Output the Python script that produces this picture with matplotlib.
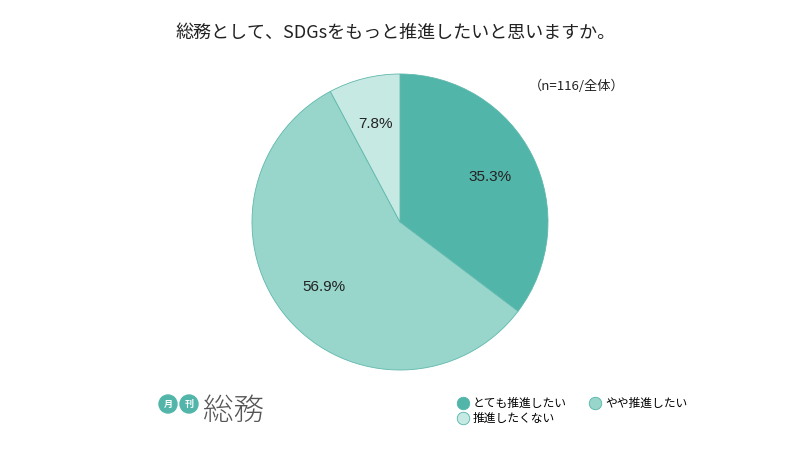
import matplotlib
matplotlib.use("Agg")
import matplotlib.pyplot as plt
from matplotlib.patches import Circle
from matplotlib.lines import Line2D

plt.rcParams['font.family'] = ['Noto Sans CJK JP', 'DejaVu Sans']

title = "総務として、SDGsをもっと推進したいと思いますか。"
note = "（n=116/全体）"
categories = ["とても推進したい", "やや推進したい", "推進したくない"]
values = [35.3, 56.9, 7.8]
colors = ["#52b5a9", "#98d6cc", "#c6e9e3"]

fig = plt.figure(figsize=(8, 4.5), dpi=100)
fig.patch.set_facecolor("white")

ax = fig.add_axes([252/800, 80/450, 296/800, 296/450])
wedges, texts, autotexts = ax.pie(
    values, colors=colors, startangle=90, counterclock=False,
    autopct=lambda p: f"{p:.1f}%", pctdistance=0.68,
    wedgeprops=dict(linewidth=0.6, edgecolor="#5fb8ac"),
    textprops=dict(fontsize=11, color="#222222"))
for t in autotexts:
    t.set_family(['Liberation Sans', 'DejaVu Sans'])
ax.set_aspect("equal")
ax.set_xlim(-1, 1)
ax.set_ylim(-1, 1)
ax.axis("off")

fig.text(0.495, 1 - 33/450, title, ha="center", va="center", fontsize=13, color="#222222")
fig.text(577/800, 1 - 86/450, note, ha="center", va="center", fontsize=9.5, color="#222222")

# legend (column-major order so the first row reads とても / やや)
order = [0, 2, 1]
handles = [Line2D([0], [0], marker='o', linestyle='', markersize=9,
                  markerfacecolor=colors[i], markeredgecolor="#52b5a9", markeredgewidth=0.6)
           for i in order]
labels = [categories[i] for i in order]
leg = fig.legend(handles, labels, loc="center left",
                 bbox_to_anchor=(452/800, 1 - 411/450), ncol=2, frameon=False,
                 fontsize=8.5, handletextpad=0.35, columnspacing=1.9,
                 labelspacing=0.12, handlelength=1.0, borderaxespad=0)

# logo
lax = fig.add_axes([0, 0, 1, 1], facecolor="none")
lax.set_xlim(0, 800)
lax.set_ylim(450, 0)
lax.axis("off")
for cx, ch in [(168, "月"), (189, "刊")]:
    lax.add_patch(Circle((cx, 404), 9, color="#52b5a9"))
    lax.text(cx, 404, ch, ha="center", va="center", fontsize=6.5, color="white", fontweight="bold")
lax.text(203, 411, "総務", ha="left", va="center", fontsize=22, color="#555555", fontweight="light")

fig.savefig("out.png", dpi=100, facecolor="white")
